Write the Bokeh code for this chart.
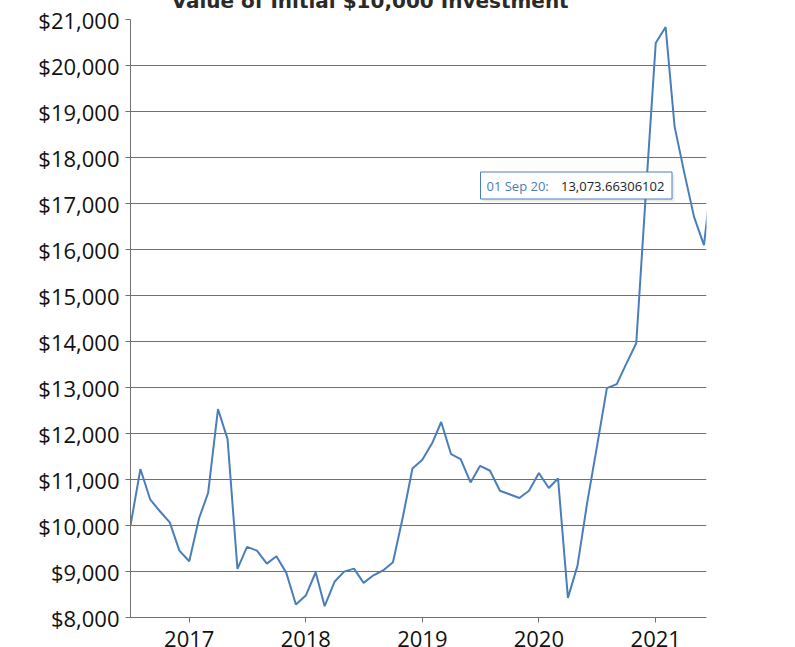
from datetime import datetime
import pandas as pd
from bokeh.plotting import figure
from bokeh.models import (Range1d, FixedTicker, NumeralTickFormatter, DatetimeTickFormatter,
                          Label, BoxAnnotation, ColumnDataSource, GlobalInlineStyleSheet, Title)
from bokeh.embed import file_html
from bokeh.resources import INLINE

# ---------------- data ----------------
title_text = "Value of Initial $10,000 Investment"
months = pd.date_range("2016-07-01", "2021-07-01", freq="MS")
values = [
    10000, 11227, 10561, 10310, 10068, 9454,            # Jul-Dec 2016
    9222, 10163, 10706, 12529, 11878, 9057,             # Jan-Jun 2017
    9534, 9454, 9172, 9331, 8970, 8282,                 # Jul-Dec 2017
    8477, 8984, 8245, 8776, 8998, 9063,                 # Jan-Jun 2018
    8753, 8918, 9027, 9201, 10184, 11240,               # Jul-Dec 2018
    11429, 11791, 12250, 11550, 11445, 10936,           # Jan-Jun 2019
    11298, 11190, 10756, 10680, 10597, 10756,           # Jul-Dec 2019
    11140, 10814, 11023, 8427, 9128, 10525,             # Jan-Jun 2020
    11719, 12985, 13073.66306102, 13518, 13961, 17220,  # Jul-Dec 2020
    20487, 20835, 18677, 17650, 16709, 16094,           # Jan-Jun 2021
    17900,                                              # Jul 2021 (clipped)
]
y_ticks = list(range(8000, 21001, 1000))
x_tick_years = [2017, 2018, 2019, 2020, 2021]
tooltip_index = 50  # 01 Sep 20

# ---------------- layout constants ----------------
SHIFT = 30                               # figure is shifted up by this many px
W = 795
L, R, T, B = 130, 706, 19, 617           # frame edges in page pixels
x_start = datetime(2016, 7, 1)
x_end = datetime(2021, 6, 9)
y_start, y_end = 8000, 21000

def ms(d):
    return pd.Timestamp(d).value / 1e6

def px_to_x(px):
    return ms(x_start) + (px - L) / (R - L) * (ms(x_end) - ms(x_start))

def py_to_y(py):
    return y_start + (B - py) / (B - T) * (y_end - y_start)

LINE_BLUE = "#4a7ebb"
GRID = "#707070"
FONT = "Open Sans"

src = ColumnDataSource(dict(x=months, y=values))

p = figure(frame_width=R - L, frame_height=B - T, x_axis_type="datetime",
           x_range=Range1d(x_start, x_end), y_range=Range1d(y_start, y_end),
           output_backend="svg", toolbar_location=None,
           min_border_left=L, min_border_right=W - R,
           min_border_top=T + SHIFT, min_border_bottom=20)
p.styles = {"position": "absolute", "top": f"-{SHIFT}px", "left": "0px"}
p.stylesheets = [GlobalInlineStyleSheet(css="html, body { overflow: hidden; }")]
p.outline_line_color = None
p.background_fill_color = "white"
p.border_fill_color = "white"

p.line("x", "y", source=src, line_color=LINE_BLUE, line_width=2)

# axes
p.yaxis.ticker = FixedTicker(ticks=y_ticks)
p.yaxis.formatter = NumeralTickFormatter(format="$0,0")
p.xaxis.ticker = FixedTicker(ticks=[ms(datetime(yr, 1, 1)) for yr in x_tick_years])
p.xaxis.formatter = DatetimeTickFormatter(years="%Y", months="%Y", days="%Y",
                                          hours="%Y", minutes="%Y", seconds="%Y",
                                          milliseconds="%Y", microseconds="%Y")
for ax in (p.xaxis[0], p.yaxis[0]):
    ax.axis_line_color = GRID
    ax.axis_line_width = 1
    ax.major_tick_line_color = GRID
    ax.major_tick_out = 5
    ax.major_tick_in = 0
    ax.minor_tick_line_color = None
    ax.major_label_text_font = FONT
    ax.major_label_text_font_size = "22px"
    ax.major_label_text_color = "#111111"
p.yaxis.major_label_standoff = 6
p.xaxis.major_label_standoff = 8

p.xgrid.grid_line_color = None
p.ygrid.grid_line_color = GRID
p.ygrid.grid_line_width = 1

# title (cut off at top of page, as in the reference)
p.add_layout(Title(text=title_text, align="left", offset=41, standoff=13,
                   text_font="DejaVu Sans", text_font_style="bold",
                   text_font_size="20px", text_color="#2a2a2a"), "above")

# tooltip box
d = months[tooltip_index]
tip_date = f"{d.day:02d} {d.strftime('%b')} {d.strftime('%y')}:"
tip_val = f"{values[tooltip_index]:,.8f}"
p.add_layout(BoxAnnotation(left=px_to_x(482), right=px_to_x(674), top=py_to_y(174), bottom=py_to_y(201),
                           fill_color="#000000", fill_alpha=0.08, line_color=None))
p.add_layout(BoxAnnotation(left=px_to_x(480), right=px_to_x(671.5), top=py_to_y(171.5), bottom=py_to_y(198.5),
                           fill_color="white", fill_alpha=1.0, line_color=LINE_BLUE, line_width=1,
                           line_alpha=1.0))
p.add_layout(Label(x=px_to_x(486), y=py_to_y(185.5), text=tip_date, text_font=FONT,
                   text_font_size="13px", text_color=LINE_BLUE, text_baseline="middle"))
p.add_layout(Label(x=px_to_x(560.5), y=py_to_y(185.5), text=tip_val, text_font=FONT,
                   text_font_size="13px", text_color="#222222", text_baseline="middle"))

open("out.html", "w").write(file_html(p, INLINE))
